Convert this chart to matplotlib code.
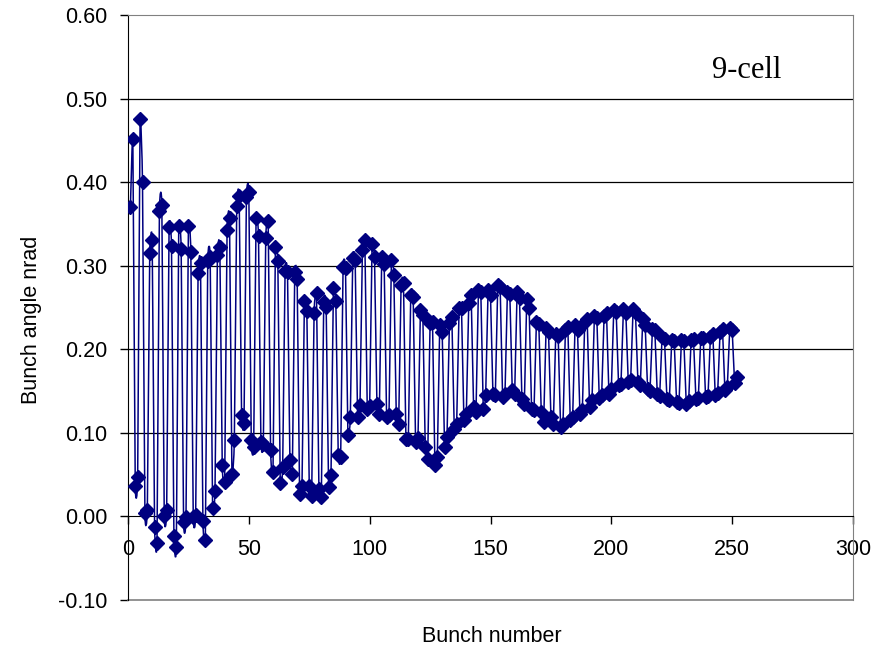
import matplotlib
matplotlib.use("Agg")
import matplotlib.pyplot as plt
from matplotlib.path import Path
from matplotlib.patches import PathPatch
import numpy as np

# ---- data ----
bunch = np.arange(1, 253)
angle = [
    0.370, 0.452, 0.037, 0.047, 0.475, 0.400, 0.004, 0.008,
    0.315, 0.331, -0.013, -0.032, 0.366, 0.373, 0.001, 0.008,
    0.346, 0.323, -0.023, -0.037, 0.347, 0.320, -0.007, -0.001,
    0.347, 0.317, -0.001, 0.002, 0.291, 0.303, -0.005, -0.028,
    0.306, 0.311, 0.010, 0.031, 0.313, 0.322, 0.061, 0.041,
    0.343, 0.357, 0.051, 0.091, 0.372, 0.384, 0.121, 0.112,
    0.382, 0.388, 0.091, 0.083, 0.357, 0.335, 0.089, 0.087,
    0.333, 0.354, 0.079, 0.053, 0.322, 0.306, 0.040, 0.059,
    0.294, 0.292, 0.067, 0.051, 0.292, 0.284, 0.027, 0.037,
    0.258, 0.246, 0.037, 0.025, 0.243, 0.267, 0.033, 0.023,
    0.257, 0.251, 0.035, 0.049, 0.273, 0.258, 0.073, 0.071,
    0.299, 0.297, 0.097, 0.119, 0.309, 0.307, 0.119, 0.133,
    0.319, 0.331, 0.129, 0.132, 0.326, 0.311, 0.135, 0.123,
    0.311, 0.302, 0.119, 0.121, 0.307, 0.289, 0.123, 0.111,
    0.277, 0.279, 0.093, 0.093, 0.265, 0.263, 0.089, 0.094,
    0.247, 0.241, 0.083, 0.069, 0.231, 0.233, 0.061, 0.071,
    0.229, 0.221, 0.083, 0.095, 0.231, 0.239, 0.105, 0.111,
    0.249, 0.249, 0.115, 0.123, 0.255, 0.265, 0.131, 0.125,
    0.271, 0.268, 0.129, 0.145, 0.271, 0.265, 0.147, 0.145,
    0.277, 0.274, 0.143, 0.147, 0.269, 0.266, 0.151, 0.147,
    0.268, 0.261, 0.140, 0.135, 0.260, 0.249, 0.129, 0.127,
    0.233, 0.230, 0.125, 0.113, 0.225, 0.221, 0.119, 0.111,
    0.218, 0.216, 0.107, 0.111, 0.223, 0.227, 0.115, 0.119,
    0.229, 0.223, 0.123, 0.127, 0.233, 0.236, 0.131, 0.139,
    0.240, 0.238, 0.142, 0.145, 0.240, 0.244, 0.147, 0.152,
    0.247, 0.245, 0.157, 0.159, 0.248, 0.244, 0.161, 0.163,
    0.248, 0.243, 0.161, 0.157, 0.236, 0.229, 0.153, 0.150,
    0.224, 0.223, 0.147, 0.144, 0.215, 0.212, 0.141, 0.139,
    0.211, 0.210, 0.137, 0.136, 0.211, 0.210, 0.135, 0.138,
    0.211, 0.212, 0.141, 0.142, 0.213, 0.214, 0.143, 0.144,
    0.215, 0.218, 0.145, 0.148, 0.221, 0.224, 0.151, 0.155,
    0.225, 0.223, 0.160, 0.167,
]
x_ticks = [0, 50, 100, 150, 200, 250, 300]
y_ticks = [-0.10, 0.00, 0.10, 0.20, 0.30, 0.40, 0.50, 0.60]
annotation = "9-cell"
x_label = "Bunch number"
y_label = "Bunch angle nrad"

NAVY = "#000080"
plt.rcParams["font.family"] = ["Liberation Sans", "DejaVu Sans"]

fig = plt.figure(figsize=(8.81, 6.52), dpi=100)
ax = fig.add_axes([128 / 881, 52 / 652, 725 / 881, 585 / 652])
ax.set_xlim(0, 300)
ax.set_ylim(-0.10, 0.60)


def smooth_path(xs, ys, k=1 / 16):
    """Lightly smoothed line (Catmull-Rom style Bezier)."""
    xs = np.asarray(xs, float)
    ys = np.asarray(ys, float)
    n = len(xs)
    verts = [(xs[0], ys[0])]
    codes = [Path.MOVETO]
    for i in range(n - 1):
        xa, ya = (xs[i - 1], ys[i - 1]) if i > 0 else (xs[i], ys[i])
        xb, yb = (xs[i + 2], ys[i + 2]) if i + 2 < n else (xs[i + 1], ys[i + 1])
        c1 = (xs[i] + (xs[i + 1] - xa) * k, ys[i] + (ys[i + 1] - ya) * k)
        c2 = (xs[i + 1] - (xb - xs[i]) * k, ys[i + 1] - (yb - ys[i]) * k)
        verts += [c1, c2, (xs[i + 1], ys[i + 1])]
        codes += [Path.CURVE4] * 3
    return Path(verts, codes)


# grid lines
for yv in y_ticks:
    if -0.1 < yv < 0.6 and abs(yv) > 1e-9:
        ax.axhline(yv, color="black", lw=0.9, zorder=1)

ax.add_patch(PathPatch(smooth_path(bunch, angle), facecolor="none",
                       edgecolor=NAVY, lw=1.1, zorder=3))
ax.plot(bunch, angle, linestyle="none", marker="D", ms=7,
        color=NAVY, mec=NAVY, zorder=4)

# spines / border
ax.spines["bottom"].set_position(("data", 0))
ax.spines["bottom"].set_color("black")
ax.spines["left"].set_color("black")
for s in ("top", "right"):
    ax.spines[s].set_color("#808080")
ax.axhline(-0.10, color="#808080", lw=1.2, zorder=2, clip_on=False)

ax.set_xticks(x_ticks)
ax.set_yticks(y_ticks)
ax.set_yticklabels([f"{v:.2f}" for v in y_ticks])
ax.tick_params(axis="both", direction="out", length=6, width=1,
               labelsize=15.5, colors="black")
ax.tick_params(axis="y", pad=9)
ax.tick_params(axis="x", pad=10)

ax.text(0.8055, 0.892, annotation, transform=ax.transAxes,
        fontsize=22, family=["Liberation Serif", "DejaVu Serif"],
        va="baseline", ha="left")

fig.text(32 / 881, 1 - 320 / 652, y_label, rotation=90, fontsize=15.5,
         ha="center", va="center")
fig.text(492 / 881, 1 - 636 / 652, x_label, fontsize=15.5,
         ha="center", va="center")

fig.savefig("out.png", dpi=100)
